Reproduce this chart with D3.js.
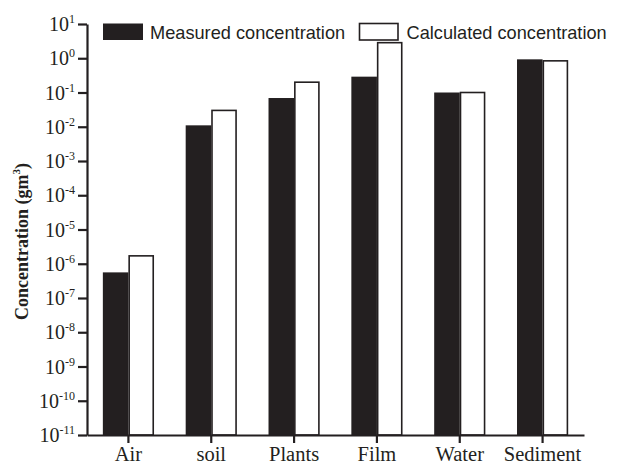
<!DOCTYPE html>
<html>
<head>
<meta charset="utf-8">
<script src="https://cdn.jsdelivr.net/npm/d3@7"></script>
<style>
  html, body { margin: 0; padding: 0; background: #fff; }
  svg { display: block; }
</style>
</head>
<body>
<div id="chart"></div>
<script>
const categories = ['Air', 'soil', 'Plants', 'Film', 'Water', 'Sediment'];
const seriesNames = ['Measured concentration', 'Calculated concentration'];
const measured = [5.6e-7, 0.011, 0.069, 0.29, 0.10, 0.93];
const calculated = [1.7e-6, 0.030, 0.20, 2.85, 0.10, 0.84];
const tickExponents = [1, 0, -1, -2, -3, -4, -5, -6, -7, -8, -9, -10, -11];

const INK = '#231f20';
const width = 622;
const height = 466;
const margin = { top: 24, right: 38, bottom: 31, left: 87 };

const svg = d3.select('#chart').append('svg')
  .attr('width', width)
  .attr('height', height);

const y = d3.scaleLog()
  .domain([1e-11, 10])
  .range([height - margin.bottom, margin.top]);

const x = d3.scaleBand()
  .domain(categories)
  .range([margin.left, width - margin.right])
  .paddingInner(0)
  .paddingOuter(0);

const xSub = d3.scaleBand()
  .domain(seriesNames)
  .range([0, x.bandwidth()])
  .paddingInner(0)
  .paddingOuter(0.62);

const rows = categories.map((c, i) => ({ cat: c, values: [measured[i], calculated[i]] }));

// bars
const groups = svg.append('g').selectAll('g')
  .data(rows)
  .join('g')
  .attr('transform', (d) => `translate(${x(d.cat)},0)`);

groups.selectAll('rect')
  .data((d) => d.values.map((v, k) => ({ name: seriesNames[k], v, k })))
  .join('rect')
  .attr('x', (d) => xSub(d.name) + (d.k ? 0.75 : 0))
  .attr('y', (d) => y(d.v))
  .attr('width', (d) => xSub.bandwidth() - (d.k ? 1.5 : 0))
  .attr('height', (d) => y.range()[0] - y(d.v))
  .attr('fill', (d) => (d.k ? '#fff' : INK))
  .attr('stroke', (d) => (d.k ? INK : 'none'))
  .attr('stroke-width', 1.6);

// y axis
const yAxis = svg.append('g')
  .attr('transform', `translate(${margin.left},0)`)
  .call(d3.axisLeft(y)
    .tickValues(tickExponents.map((e) => Math.pow(10, e)))
    .tickSize(9)
    .tickSizeOuter(0)
    .tickFormat(''));
yAxis.select('.domain').attr('stroke', INK).attr('stroke-width', 2.2);
yAxis.selectAll('.tick line').attr('stroke', INK).attr('stroke-width', 2.2);

const yLabels = svg.append('g')
  .attr('font-family', '"Liberation Serif", "Times New Roman", serif')
  .attr('fill', INK);
tickExponents.forEach((e) => {
  const t = yLabels.append('text')
    .attr('x', 75)
    .attr('y', y(Math.pow(10, e)) + 7)
    .attr('text-anchor', 'end')
    .attr('font-size', 20);
  t.append('tspan').text('10');
  t.append('tspan').attr('font-size', 12).attr('dy', -8).text(String(e));
});

// x axis
const xAxis = svg.append('g')
  .attr('transform', `translate(0,${height - margin.bottom})`)
  .call(d3.axisBottom(x).tickSize(8).tickSizeOuter(0));
xAxis.select('.domain').attr('stroke', INK).attr('stroke-width', 2.2);
xAxis.selectAll('.tick line').attr('stroke', INK).attr('stroke-width', 2.2);
xAxis.selectAll('.tick text')
  .attr('y', 26)
  .attr('dy', 0)
  .attr('font-size', 20.5)
  .attr('font-family', '"Liberation Serif", "Times New Roman", serif')
  .attr('fill', INK);

// y title
const yTitle = svg.append('text')
  .attr('transform', `translate(28,${(margin.top + height - margin.bottom) / 2 + 12}) rotate(-90)`)
  .attr('text-anchor', 'middle')
  .attr('font-family', '"Liberation Serif", "Times New Roman", serif')
  .attr('font-weight', 700)
  .attr('font-size', 18)
  .attr('fill', INK);
yTitle.append('tspan').text('Concentration (gm');
yTitle.append('tspan').attr('font-size', 11).attr('dy', -8).text('3');
yTitle.append('tspan').attr('dy', 8).text(')');

// legend
const legend = svg.append('g')
  .attr('font-family', '"Liberation Sans", Arial, sans-serif')
  .attr('font-size', 18.2)
  .attr('fill', INK);
const legendItems = [
  { name: seriesNames[0], x: 103, fill: INK, stroke: 'none' },
  { name: seriesNames[1], x: 359.5, fill: '#fff', stroke: INK },
];
legendItems.forEach((d) => {
  legend.append('rect')
    .attr('x', d.x)
    .attr('y', 23.5)
    .attr('width', d.stroke === 'none' ? 40 : 38.5)
    .attr('height', 16.5)
    .attr('fill', d.fill)
    .attr('stroke', d.stroke)
    .attr('stroke-width', 1.6);
  legend.append('text')
    .attr('x', d.x + 47)
    .attr('y', 38.5)
    .text(d.name);
});
</script>
</body>
</html>
